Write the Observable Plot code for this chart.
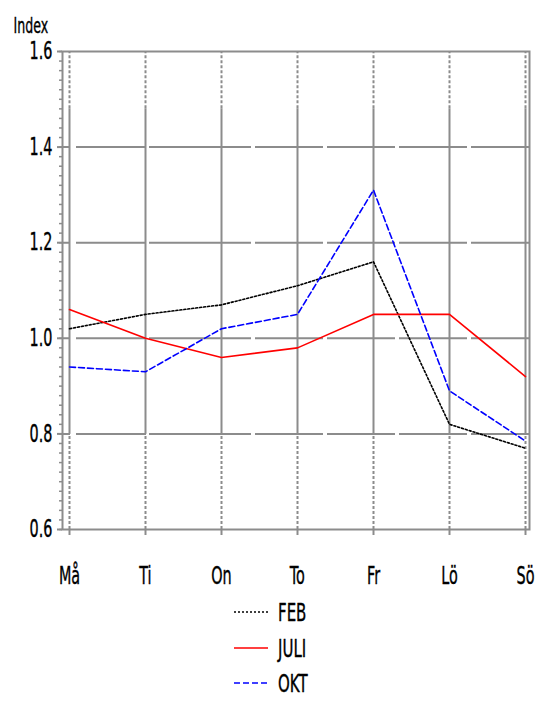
<!DOCTYPE html>
<html><head><meta charset="utf-8">
<script src="https://cdn.jsdelivr.net/npm/d3@7"></script>
<script src="https://cdn.jsdelivr.net/npm/@observablehq/plot@0.6"></script>
<style>
body{margin:0;background:#fff;font-family:"DejaVu Sans",sans-serif;}
#legend{position:relative;height:121px;}
.row{position:absolute;left:234px;height:28px;display:flex;align-items:center;}
.row svg{width:34px;height:4px;}
.row span{margin-left:10px;font-size:25px;color:#000;display:inline-block;transform:scaleX(0.6);transform-origin:left center;-webkit-text-stroke:0.4px #000;}
</style></head>
<body>
<div id="chart"></div>
<div id="legend"></div>
<script>
const days = ["Må","Ti","On","To","Fr","Lö","Sö"];
const feb  = [1.02,1.05,1.07,1.11,1.16,0.82,0.77];
const juli = [1.06,1.00,0.96,0.98,1.05,1.05,0.92];
const okt  = [0.94,0.93,1.02,1.05,1.31,0.89,0.785];
const seriesNames = ["FEB","JULI","OKT"];
const seriesColors = ["#000000","#ff0000","#0000ff"];
const seriesDash = ["2,2",null,"6,3"];
const yTicks = [0.6,0.8,1.0,1.2,1.4,1.6];
const innerGrid = [0.8,1.0,1.2,1.4];
const minorTicks = d3.range(30,81).map(i=>i/50);

const vals = [feb,juli,okt];
const data = [];
seriesNames.forEach((s,k)=>days.forEach((d,i)=>data.push({series:s,day:d,value:vals[k][i]})));

const grid = "#8c8c8c";

const plot = Plot.plot({
  width:536, height:590,
  marginLeft:62, marginRight:7, marginTop:51, marginBottom:61,
  style:{fontFamily:'"DejaVu Sans",sans-serif', fontSize:"24px", color:"#000", background:"#fff"},
  x:{type:"point", domain:days, padding:0, insetLeft:5, insetRight:3},
  y:{domain:[0.6,1.6]},
  marks:[
    Plot.ruleY(innerGrid,{stroke:grid,strokeWidth:2, strokeDasharray:"8,6,70,3,102,4,68,4,68,4,68,4,60"}),
    Plot.ruleX(days,{x:d=>d, y1:0.8, y2:1.48, stroke:grid, strokeWidth:2}),
    Plot.ruleX(days,{x:d=>d, y1:1.48, y2:1.6, stroke:grid, strokeWidth:2, strokeDasharray:"3,2"}),
    Plot.ruleX(days,{x:d=>d, y1:0.6, y2:0.8, stroke:grid, strokeWidth:2, strokeDasharray:"3,2"}),
    Plot.frame({stroke:grid, strokeWidth:2}),
    Plot.axisY(minorTicks,{tickSize:3, stroke:grid, strokeWidth:1.5, tickFormat:()=>"", label:null}),
    Plot.axisY(yTicks,{tickSize:5, stroke:grid, strokeWidth:2, tickPadding:5, tickFormat:d3.format(".1f"), label:null, fill:"#000"}),
    Plot.axisX(days,{tickSize:6, stroke:grid, strokeWidth:2, tickPadding:31, label:null, fill:"#000"}),
    Plot.text(["Index"],{frameAnchor:"top-left", dx:-49, dy:-33, textAnchor:"start", fontSize:21}),
    ...seriesNames.map((s,k)=>Plot.line(data.filter(d=>d.series===s),{x:"day", y:"value", stroke:seriesColors[k], strokeWidth:1.6, strokeDasharray:seriesDash[k]}))
  ]
});
document.getElementById("chart").appendChild(plot);

// narrow the glyphs to mimic the condensed bitmap font of the original
plot.querySelectorAll("text").forEach(t=>{
  const b = t.getBBox();
  const anchor = getComputedStyle(t).textAnchor;
  const px = anchor==="end" ? b.x+b.width : anchor==="middle" ? b.x+b.width/2 : b.x;
  const prev = t.getAttribute("transform")||"";
  t.setAttribute("transform", `${prev} translate(${px},0) scale(0.6,1) translate(${-px},0)`);
  t.style.stroke = "#000";
  t.style.strokeWidth = "0.4";
});

const legend = document.getElementById("legend");
const tops = [22,58,93];
seriesNames.forEach((s,k)=>{
  const row = document.createElement("div");
  row.className="row";
  row.style.top=(tops[k]-14)+"px";
  row.innerHTML = `<svg><line x1="0" y1="2" x2="34" y2="2" stroke="${seriesColors[k]}" stroke-width="1.6" ${seriesDash[k]?`stroke-dasharray="${seriesDash[k]}"`:""}/></svg><span>${s}</span>`;
  legend.appendChild(row);
});
</script>
</body></html>
